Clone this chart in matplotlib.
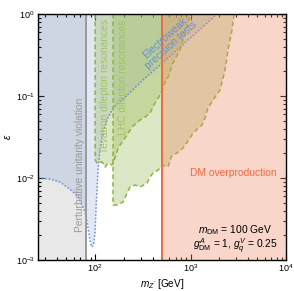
import numpy as np
import matplotlib
matplotlib.use('Agg')
import matplotlib.pyplot as plt

plt.rcParams['font.family'] = ['Liberation Sans', 'DejaVu Sans']
plt.rcParams['mathtext.fontset'] = 'custom'
plt.rcParams['mathtext.rm'] = 'Liberation Sans'
plt.rcParams['mathtext.it'] = 'Liberation Sans:italic'
plt.rcParams['mathtext.bf'] = 'Liberation Sans:bold'

# limits / vertical bounds [GeV]
m_unitarity = 80
m_overprod = 500

# electroweak precision tests (excluded above curve)
ew_m = [25.3, 33.8, 43, 54.7, 66.4, 78.6, 82.4, 86.5, 89.7, 93.0, 96.4, 100,
        102.4, 104.9, 107.5, 112.8, 121.4, 136.8, 161.9, 196.3, 318, 479, 1490, 1890]
ew_eps = [0.0100, 0.0097, 0.0089, 0.0073, 0.0059, 0.00385, 0.0029, 0.00202, 0.00157,
          0.00144, 0.00157, 0.00219, 0.00443, 0.00755, 0.0125, 0.0232, 0.0364, 0.0555,
          0.0755, 0.0919, 0.157, 0.239, 0.777, 1.0]

# Tevatron dilepton resonances (closed boundary)
tev_m = [100, 100, 104.9, 118.4, 127.2, 136.8, 150.7, 154.3, 165.9, 174.2, 191.8,
         216.4, 243.8, 295.8, 334, 376.6, 424.9, 479.5, 540.8, 581, 655, 776, 875, 988, 1012]
tev_eps = [1.0, 0.0166, 0.0152, 0.0157, 0.0136, 0.0152, 0.0144, 0.0152, 0.0191, 0.0232,
           0.0275, 0.0334, 0.0419, 0.0510, 0.0555, 0.0620, 0.0822, 0.1028, 0.148, 0.1706,
           0.253, 0.364, 0.587, 0.972, 1.0]

# LHC dilepton resonances (closed boundary)
lhc_m = [154.3, 154.3, 169.8, 196.3, 216.4, 232.4, 262.3, 295.8, 350.7, 376.6, 404.8,
         456.6, 515, 581, 639.7, 722, 834, 988, 1062, 1319, 1418, 1524, 1806, 2037,
         2296, 2470, 2722, 2859]
lhc_eps = [1.0, 0.00469, 0.00469, 0.00509, 0.00656, 0.00777, 0.00822, 0.00777, 0.00869,
           0.0103, 0.0115, 0.0125, 0.0144, 0.0136, 0.0191, 0.0202, 0.0232, 0.0307, 0.0354,
           0.0443, 0.0539, 0.0714, 0.0972, 0.118, 0.207, 0.364, 0.638, 1.0]

green = '#9bbb59'
green_line = '#8cb43e'
blue = '#6a8fd0'
orange = '#ee6a44'

fig = plt.figure(figsize=(2.94, 2.91), dpi=100)
ax = fig.add_axes([0.128, 0.1065, 0.8446, 0.8454])
ax.set_xscale('log')
ax.set_yscale('log')
ax.set_xlim(25, 1e4)
ax.set_ylim(1e-3, 1)

# unitarity
ax.axvspan(25, m_unitarity, color='#e8e8e8', lw=0, zorder=1)

# EW precision
ax.fill_between(ew_m, ew_eps, 1, color=blue, alpha=0.2, lw=0, zorder=2)
ax.plot(ew_m, ew_eps, color=blue, lw=1.1, ls=(0, (1, 1.3)), zorder=3)

# Tevatron and LHC
ax.fill(tev_m, tev_eps, color=green, alpha=0.35, lw=0, zorder=2)
ax.plot(tev_m[:-1], tev_eps[:-1], color=green_line, lw=1.1, ls=(0, (3, 2)), zorder=3)
ax.fill(lhc_m, lhc_eps, color=green, alpha=0.35, lw=0, zorder=2)
ax.plot(lhc_m, lhc_eps, color=green_line, lw=1.1, ls=(0, (3, 2)), zorder=3)

# DM overproduction
ax.axvspan(m_overprod, 1e4, color='#f08a68', alpha=0.35, lw=0, zorder=4)
ax.axvline(m_overprod, color=orange, lw=1.4, zorder=5)
ax.axvline(m_unitarity, color='#999999', lw=1.4, zorder=5)

fs = 7.4
ax.text(69.7, 0.0022, 'Perturbative unitarity violation', rotation=90, ha='center',
        va='bottom', color='#9a9a9a', fontsize=fs, zorder=6)
ax.text(126, 0.0202, 'Tevatron dilepton resonances', rotation=90, ha='center',
        va='bottom', color='#a3c263', fontsize=fs, zorder=6)
ax.text(198, 0.0334, 'LHC dilepton resonances', rotation=90, ha='center',
        va='bottom', color='#a3c263', fontsize=fs, zorder=6)
ax.text(581, 0.456, 'Electroweak\nprecision tests', rotation=42, ha='center',
        va='center', ma='center', color=blue, fontsize=fs, linespacing=0.9,
        rotation_mode='anchor', zorder=6)
ax.text(2786, 0.0115, 'DM overproduction', ha='center', va='center',
        color=orange, fontsize=fs, zorder=6)
ax.text(2924, 0.00232, r'$m_{\rm DM}$ = 100 GeV', ha='center', va='center',
        fontsize=fs, zorder=6)
ax.text(2924, 0.00148, r'$g^A_{\rm DM}$ = 1, $g^V_q$ = 0.25', ha='center', va='center',
        fontsize=fs, zorder=6)

ax.set_xlabel(r"$m_{Z'}$ [GeV]", fontsize=7.2, labelpad=2)
ax.set_ylabel(r'$\varepsilon$', fontsize=7.2, labelpad=2)
ax.tick_params(which='both', direction='in', top=True, right=True, labelsize=6.5, width=0.8)
ax.tick_params(which='major', length=4, pad=2)
ax.tick_params(which='minor', length=2)
for s in ax.spines.values():
    s.set_linewidth(1.0)
    s.set_zorder(7)

fig.savefig('out.png', dpi=100)
